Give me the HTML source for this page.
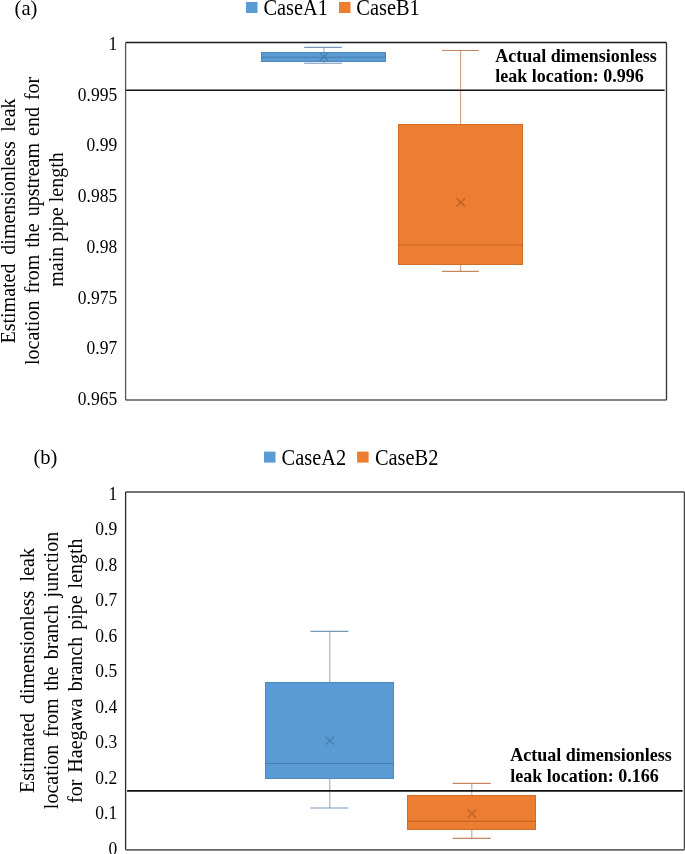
<!DOCTYPE html>
<html><head><meta charset="utf-8"><title>Box plots</title>
<style>
html,body{margin:0;padding:0;background:#fff;}
body{width:685px;height:854px;overflow:hidden;position:relative;}
svg{position:absolute;left:0;top:0;display:block;will-change:transform;}
text{font-family:"Liberation Serif",serif;fill:#000;}
.t20{font-size:20px;}
.lg{font-size:20.4px;}
.tk{font-size:17.5px;}
.tb{font-size:18px;font-weight:bold;}
</style></head><body>
<svg width="685" height="854" viewBox="0 0 685 854">
<rect width="685" height="854" fill="#fff"/>
<text x="14.6" y="14.5" class="t20" style="font-size:20.6px">(a)</text>
<rect x="246" y="2" width="11.5" height="11" fill="#5B9BD5"/>
<text transform="translate(263.4,14.9) scale(1,1.08)" class="lg">CaseA1</text>
<rect x="339" y="2" width="11.5" height="11" fill="#ED7D31"/>
<text transform="translate(356.3,14.9) scale(1,1.08)" class="lg">CaseB1</text>
<text transform="translate(117.2,50) scale(1,1.02)" class="tk" text-anchor="end">1</text>
<text transform="translate(117.2,100.74) scale(1,1.02)" class="tk" text-anchor="end">0.995</text>
<text transform="translate(117.2,151.48) scale(1,1.02)" class="tk" text-anchor="end">0.99</text>
<text transform="translate(117.2,202.22) scale(1,1.02)" class="tk" text-anchor="end">0.985</text>
<text transform="translate(117.2,252.96) scale(1,1.02)" class="tk" text-anchor="end">0.98</text>
<text transform="translate(117.2,303.7) scale(1,1.02)" class="tk" text-anchor="end">0.975</text>
<text transform="translate(117.2,354.44) scale(1,1.02)" class="tk" text-anchor="end">0.97</text>
<text transform="translate(117.2,405.18) scale(1,1.02)" class="tk" text-anchor="end">0.965</text>
<text transform="translate(15.2,221) rotate(-90)" text-anchor="middle" class="t20" style="word-spacing:0px">Estimated <tspan dx="3.9">dimensionless</tspan> <tspan dx="4.5">leak</tspan></text>
<text transform="translate(39.2,220.9) rotate(-90)" text-anchor="middle" class="t20" style="word-spacing:2.0px">location from the upstream end for</text>
<text transform="translate(62.6,219.5) rotate(-90)" text-anchor="middle" class="t20" style="word-spacing:0px">main pipe length</text>
<line x1="323.9" y1="47.4" x2="323.9" y2="52" stroke="#41719C" stroke-opacity="0.55" stroke-width="1.1"/>
<line x1="323.9" y1="62" x2="323.9" y2="63.3" stroke="#41719C" stroke-opacity="0.55" stroke-width="1.1"/>
<line x1="304.2" y1="47.4" x2="341.8" y2="47.4" stroke="#41719C" stroke-opacity="0.72" stroke-width="1.1"/>
<line x1="304.2" y1="63.3" x2="341.8" y2="63.3" stroke="#41719C" stroke-opacity="0.72" stroke-width="1.1"/>
<rect x="261" y="52" width="125" height="10" fill="#5B9BD5"/>
<rect x="261.5" y="52.5" width="124" height="9" fill="none" stroke="#41719C" stroke-opacity="0.45" stroke-width="1"/>
<line x1="261" y1="57.3" x2="386" y2="57.3" stroke="#41719C" stroke-opacity="0.7" stroke-width="1.1"/>
<path d="M319.5 52.6L328.1 60.8M328.1 52.6L319.5 60.8" stroke="#41719C" stroke-opacity="0.75" stroke-width="1.3" fill="none"/>
<line x1="460.6" y1="50.5" x2="460.6" y2="124" stroke="#AE5A21" stroke-opacity="0.55" stroke-width="1.1"/>
<line x1="460.6" y1="265" x2="460.6" y2="271.4" stroke="#AE5A21" stroke-opacity="0.55" stroke-width="1.1"/>
<line x1="442" y1="50.5" x2="478.8" y2="50.5" stroke="#AE5A21" stroke-opacity="0.72" stroke-width="1.1"/>
<line x1="442" y1="271.4" x2="478.8" y2="271.4" stroke="#AE5A21" stroke-opacity="0.72" stroke-width="1.1"/>
<rect x="398" y="124" width="125" height="141" fill="#ED7D31"/>
<rect x="398.5" y="124.5" width="124" height="140" fill="none" stroke="#AE5A21" stroke-opacity="0.45" stroke-width="1"/>
<line x1="398" y1="245" x2="523" y2="245" stroke="#AE5A21" stroke-opacity="0.7" stroke-width="1.1"/>
<path d="M456.45 198.25L465.05 206.45M465.05 198.25L456.45 206.45" stroke="#AE5A21" stroke-opacity="0.75" stroke-width="1.3" fill="none"/>
<line x1="125" y1="90.2" x2="664.7" y2="90.2" stroke="#111" stroke-width="1.6"/>
<text x="495.3" y="61.7" class="tb">Actual dimensionless</text>
<text x="495.3" y="82.1" class="tb">leak location: 0.996</text>
<line x1="125.6" y1="42.5" x2="666.5" y2="42.5" stroke="#1a1a1a" stroke-width="1.5"/>
<line x1="125.6" y1="42.5" x2="125.6" y2="400" stroke="#555" stroke-width="1.3"/>
<line x1="666.5" y1="42.5" x2="666.5" y2="400" stroke="#333" stroke-width="1.3"/>
<line x1="125.6" y1="400" x2="666.5" y2="400" stroke="#5a5a5a" stroke-width="1.7"/>
<text x="33.4" y="464" class="t20" style="font-size:20.6px">(b)</text>
<rect x="264" y="451.6" width="11.5" height="11" fill="#5B9BD5"/>
<text transform="translate(281.6,464.9) scale(1,1.08)" class="lg">CaseA2</text>
<rect x="357.1" y="451.6" width="11.5" height="11" fill="#ED7D31"/>
<text transform="translate(374.9,464.9) scale(1,1.08)" class="lg">CaseB2</text>
<text transform="translate(117.2,499.8) scale(1,1.02)" class="tk" text-anchor="end">1</text>
<text transform="translate(117.2,535.27) scale(1,1.02)" class="tk" text-anchor="end">0.9</text>
<text transform="translate(117.2,570.74) scale(1,1.02)" class="tk" text-anchor="end">0.8</text>
<text transform="translate(117.2,606.21) scale(1,1.02)" class="tk" text-anchor="end">0.7</text>
<text transform="translate(117.2,641.68) scale(1,1.02)" class="tk" text-anchor="end">0.6</text>
<text transform="translate(117.2,677.15) scale(1,1.02)" class="tk" text-anchor="end">0.5</text>
<text transform="translate(117.2,712.62) scale(1,1.02)" class="tk" text-anchor="end">0.4</text>
<text transform="translate(117.2,748.09) scale(1,1.02)" class="tk" text-anchor="end">0.3</text>
<text transform="translate(117.2,783.56) scale(1,1.02)" class="tk" text-anchor="end">0.2</text>
<text transform="translate(117.2,819.03) scale(1,1.02)" class="tk" text-anchor="end">0.1</text>
<text transform="translate(117.2,854.5) scale(1,1.02)" class="tk" text-anchor="end">0</text>
<text transform="translate(34,670.5) rotate(-90)" text-anchor="middle" class="t20" style="word-spacing:0px">Estimated <tspan dx="3.9">dimensionless</tspan> <tspan dx="4.3">leak</tspan></text>
<text transform="translate(58.2,670.5) rotate(-90)" text-anchor="middle" class="t20" style="word-spacing:2.4px">location from the branch junction</text>
<text transform="translate(82.4,670.7) rotate(-90)" text-anchor="middle" class="t20" style="word-spacing:2.0px">for Haegawa branch pipe length</text>
<line x1="329.75" y1="631.4" x2="329.75" y2="682" stroke="#41719C" stroke-opacity="0.55" stroke-width="1.1"/>
<line x1="329.75" y1="779" x2="329.75" y2="808" stroke="#41719C" stroke-opacity="0.55" stroke-width="1.1"/>
<line x1="310.4" y1="631.4" x2="348.4" y2="631.4" stroke="#41719C" stroke-opacity="0.72" stroke-width="1.1"/>
<line x1="310.4" y1="808" x2="348.4" y2="808" stroke="#41719C" stroke-opacity="0.72" stroke-width="1.1"/>
<rect x="265" y="682" width="129" height="97" fill="#5B9BD5"/>
<rect x="265.5" y="682.5" width="128" height="96" fill="none" stroke="#41719C" stroke-opacity="0.45" stroke-width="1"/>
<line x1="265" y1="763.5" x2="394" y2="763.5" stroke="#41719C" stroke-opacity="0.7" stroke-width="1.1"/>
<path d="M325.55 736.5L334.15 744.7M334.15 736.5L325.55 744.7" stroke="#41719C" stroke-opacity="0.75" stroke-width="1.3" fill="none"/>
<line x1="471.8" y1="783.4" x2="471.8" y2="795" stroke="#AE5A21" stroke-opacity="0.55" stroke-width="1.1"/>
<line x1="471.8" y1="830" x2="471.8" y2="838.4" stroke="#AE5A21" stroke-opacity="0.55" stroke-width="1.1"/>
<line x1="452.7" y1="783.4" x2="490.8" y2="783.4" stroke="#AE5A21" stroke-opacity="0.72" stroke-width="1.1"/>
<line x1="452.7" y1="838.4" x2="490.8" y2="838.4" stroke="#AE5A21" stroke-opacity="0.72" stroke-width="1.1"/>
<rect x="407" y="795" width="129" height="35" fill="#ED7D31"/>
<rect x="407.5" y="795.5" width="128" height="34" fill="none" stroke="#AE5A21" stroke-opacity="0.45" stroke-width="1"/>
<line x1="407" y1="821.3" x2="536" y2="821.3" stroke="#AE5A21" stroke-opacity="0.7" stroke-width="1.1"/>
<path d="M467.6 809.5L476.2 817.7M476.2 809.5L467.6 817.7" stroke="#AE5A21" stroke-opacity="0.75" stroke-width="1.3" fill="none"/>
<line x1="127.1" y1="790.9" x2="682.6" y2="790.9" stroke="#111" stroke-width="1.6"/>
<text x="510.3" y="761.1" class="tb">Actual dimensionless</text>
<text x="510.3" y="781.5" class="tb">leak location: 0.166</text>
<line x1="125.6" y1="492" x2="684.4" y2="492" stroke="#444" stroke-width="1.5"/>
<line x1="125.6" y1="492" x2="125.6" y2="849.8" stroke="#2a2a2a" stroke-width="1.3"/>
<line x1="684.4" y1="492" x2="684.4" y2="849.8" stroke="#444" stroke-width="1.3"/>
<line x1="125.6" y1="849.8" x2="684.4" y2="849.8" stroke="#666" stroke-width="1.7"/>
</svg>
</body></html>
